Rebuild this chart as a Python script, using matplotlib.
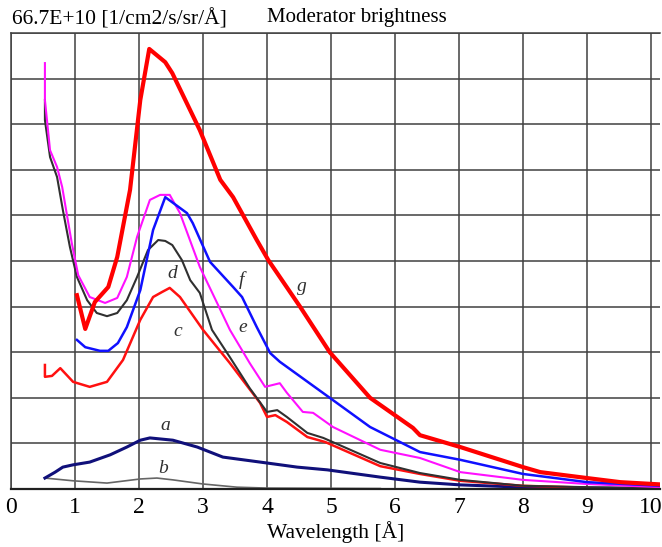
import matplotlib
matplotlib.use("Agg")
import matplotlib.pyplot as plt

plt.rcParams['font.family'] = ['Liberation Serif', 'DejaVu Serif']

# Curve data (wavelength in Å, brightness in grid units of 66.7E+10/10)
g_x = [1.03, 1.16, 1.31, 1.52, 1.66, 1.86, 2.02, 2.16, 2.41, 2.52, 2.95, 3.27, 3.47, 3.84,
       4.02, 4.52, 4.98, 5.61, 6.28, 6.39, 7.02, 8.00, 8.27, 9.00, 9.52, 10.15]
g_y = [4.25, 3.51, 4.10, 4.43, 5.09, 6.56, 8.53, 9.65, 9.36, 9.12, 7.87, 6.78, 6.40, 5.46,
       5.02, 3.99, 3.00, 2.00, 1.34, 1.18, 0.92, 0.48, 0.37, 0.24, 0.15, 0.10]

f_x = [1.03, 1.16, 1.39, 1.52, 1.67, 1.81, 2.02, 2.22, 2.41, 2.75, 2.84, 3.11, 3.47, 3.61,
       3.84, 4.05, 4.20, 4.98, 5.61, 6.39, 7.02, 8.00, 9.00, 10.15]
f_y = [3.27, 3.11, 3.03, 3.03, 3.20, 3.55, 4.36, 5.68, 6.40, 6.05, 5.83, 4.98, 4.43, 4.21,
       3.55, 2.98, 2.79, 2.00, 1.36, 0.81, 0.64, 0.33, 0.15, 0.07]

e_x = [0.53, 0.53, 0.61, 0.72, 0.80, 0.88, 0.95, 1.05, 1.23, 1.47, 1.66, 1.81, 1.97, 2.17,
       2.33, 2.48, 2.64, 2.95, 3.22, 3.42, 3.73, 3.97, 4.20, 4.31, 4.56, 4.72, 5.03, 5.77,
       6.39, 7.02, 8.00, 9.00, 10.15]
e_y = [9.34, 8.53, 7.43, 7.06, 6.62, 5.96, 5.39, 4.69, 4.21, 4.08, 4.19, 4.65, 5.53, 6.34,
       6.45, 6.45, 6.05, 4.87, 4.08, 3.49, 2.76, 2.24, 2.32, 2.11, 1.69, 1.67, 1.36, 0.86,
       0.68, 0.37, 0.20, 0.11, 0.04]

d_x = [0.53, 0.53, 0.61, 0.72, 0.81, 0.92, 1.03, 1.19, 1.34, 1.50, 1.66, 1.81, 1.97, 2.14,
       2.30, 2.41, 2.52, 2.67, 2.80, 2.95, 3.14, 3.42, 3.73, 4.00, 4.16, 4.31, 4.63, 4.88,
       5.77, 6.39, 7.02, 8.00, 9.00, 10.15]
d_y = [8.53, 8.09, 7.28, 6.84, 6.12, 5.31, 4.65, 4.14, 3.86, 3.79, 3.86, 4.14, 4.65, 5.24,
       5.46, 5.44, 5.35, 5.02, 4.58, 4.30, 3.49, 2.89, 2.21, 1.69, 1.73, 1.58, 1.23, 1.12,
       0.57, 0.35, 0.20, 0.07, 0.04, 0.02]

c_x = [0.53, 0.53, 0.64, 0.77, 0.97, 1.23, 1.50, 1.75, 2.02, 2.22, 2.36, 2.48, 2.64, 3.00,
       3.42, 3.89, 4.00, 4.13, 4.31, 4.63, 4.91, 5.77, 6.39, 7.02, 8.00, 9.00]
c_y = [2.72, 2.46, 2.48, 2.65, 2.35, 2.24, 2.35, 2.83, 3.71, 4.21, 4.32, 4.41, 4.21, 3.49,
       2.76, 1.89, 1.58, 1.62, 1.47, 1.14, 1.03, 0.50, 0.33, 0.18, 0.07, 0.03]

a_x = [0.53, 0.69, 0.81, 0.97, 1.23, 1.55, 1.81, 2.02, 2.17, 2.53, 2.91, 3.31, 4.00, 4.47,
       4.94, 5.77, 6.39, 7.02, 8.00, 9.00, 10.0]
a_y = [0.24, 0.37, 0.48, 0.53, 0.59, 0.75, 0.92, 1.07, 1.12, 1.07, 0.92, 0.70, 0.57, 0.48,
       0.42, 0.26, 0.15, 0.09, 0.04, 0.02, 0.01]

b_x = [0.53, 0.97, 1.50, 2.02, 2.28, 2.53, 3.00, 3.53, 4.00, 5.77]
b_y = [0.24, 0.18, 0.13, 0.22, 0.24, 0.20, 0.11, 0.04, 0.02, 0.01]

x_ticks = list(range(0, 11))
x_tick_labels = [str(v) for v in x_ticks]

# label positions
labels = ['a', 'b', 'c', 'd', 'e', 'f', 'g']
label_x = [2.41, 2.38, 2.60, 2.52, 3.62, 3.60, 4.55]
label_y = [1.40, 0.44, 3.45, 4.72, 3.55, 4.58, 4.45]

fig = plt.figure(figsize=(6.62, 5.47), dpi=100)
ax = fig.add_axes([11/662, 1 - 489/547, 649/662, (489-33)/547])

ax.set_xlim(0, 10.14)
ax.set_ylim(0, 10)
ax.set_xticks(x_ticks)
ax.set_xticklabels(x_tick_labels, fontsize=17)
ax.set_yticks(range(0, 11))
ax.set_yticklabels([])
ax.tick_params(length=0, pad=6)
ax.grid(True, color='#404040', linewidth=1.1)
ax.set_axisbelow(True)
for s in ['left', 'top', 'right']:
    ax.spines[s].set_color('#404040')
    ax.spines[s].set_linewidth(1.1)
ax.spines['right'].set_visible(False)
ax.spines['bottom'].set_color('#202020')
ax.spines['bottom'].set_linewidth(1.6)

ax.plot(b_x, b_y, color='#666666', lw=1.2)
ax.plot(a_x, a_y, color='#10107a', lw=2.2)
ax.plot(c_x, c_y, color='#ff1010', lw=1.8)
ax.plot(d_x, d_y, color='#303030', lw=1.5)
ax.plot(e_x, e_y, color='#ff10ff', lw=1.5)
ax.plot(f_x, f_y, color='#1010ff', lw=1.8)
ax.plot(g_x, g_y, color='#ff0000', lw=3.0)

for t, lx, ly in zip(labels, label_x, label_y):
    ax.text(lx, ly, t, fontsize=14, style='italic', color='#303030', ha='center', va='center')

ax.set_xlabel('Wavelength [Å]', fontsize=15.5, labelpad=2)

fig.text(12/662, 1 - 24/547, '66.7E+10 [1/cm2/s/sr/Å]', fontsize=15.5, ha='left', va='baseline')
fig.text(267/662, 1 - 22/547, 'Moderator brightness', fontsize=15, ha='left', va='baseline')

fig.savefig('out.png', dpi=100)
